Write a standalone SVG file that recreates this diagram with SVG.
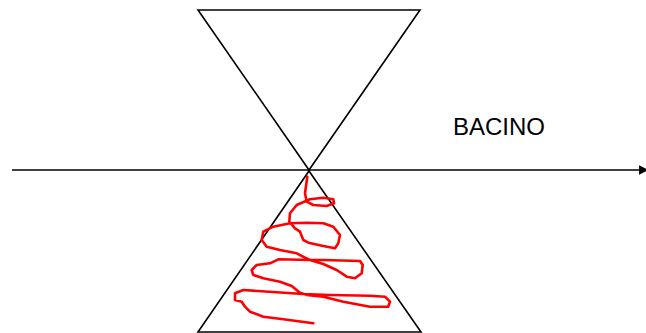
<svg xmlns="http://www.w3.org/2000/svg" width="646" height="333" viewBox="0 0 646 333">
<style>
.ln{stroke:#000;stroke-width:1.6;fill:none}
.scr{stroke:#f00;stroke-width:2.6;fill:none;stroke-linejoin:round;stroke-linecap:round}
.lbl{font-family:"Liberation Sans",Arial,sans-serif;font-size:24px;fill:#000}
</style>
<defs>
<marker id="ah" viewBox="0 0 10 10" refX="2" refY="5" markerWidth="6" markerHeight="6" orient="auto" markerUnits="strokeWidth">
<path d="M0,0 L10,5 L0,10 z" fill="#000"/>
</marker>
</defs>
<g id="connectors">
<line class="ln" x1="12" y1="170" x2="641" y2="170" marker-end="url(#ah)"/>
</g>
<g id="top-triangle">
<polygon class="ln" points="198,10 420,10 309,170"/>
</g>
<g id="bottom-triangle">
<polygon class="ln" points="309,171 421,332 198,332"/>
</g>
<g id="scribble">
<polyline class="scr" points="307.3,176.7 305,193.3 306.7,201.7 313.3,205 326.7,206 334,203.3 333.3,199.3 323.3,197.7 310,199.3 296.7,205 290,213.3 289.3,221.7 295,228.3 300,231.7 303.3,240 308.3,242.7 323.3,246 335,248.3 338.3,243.3 340,235 333.3,226.7 323.3,223.3 306.7,222.7 290,223.3 273.3,226.7 263.3,231.7 261.7,240 266.7,246.7 280,250 296.7,253.3 305,257.7 310,260 323.3,260 360,261 362.7,265 361.7,273.3 355,278.3 346.7,276.7 336.7,270 323.3,264 310,260 278.3,259.3 270,263.3 256.7,265 251.7,270 253.3,275 263.3,278.3 280,281.7 291.7,286 300,292.7 306.7,295 323.3,296.7 343.3,301.7 370,306.7 388.3,306.7 390,301.7 385,296.7 370,295.7 330,295 303.3,294 243.3,290 235,293.3 235,300 241.7,301.7 245,306.7 250,311.7 263.3,316.7 283.3,319.3 313.3,323.3"/>
</g>
<g id="label">
<text class="lbl" x="453" y="135">BACINO</text>
</g>
</svg>
